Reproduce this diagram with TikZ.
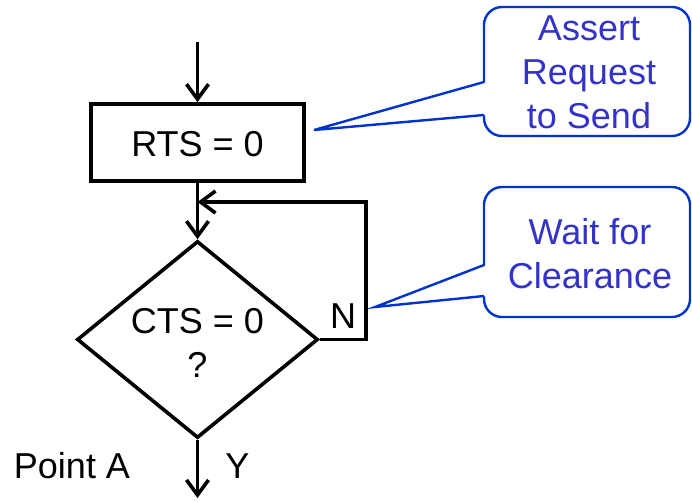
\documentclass[tikz,border=0pt]{standalone}
\usepackage{fontspec}
\setmainfont{Liberation Sans}
\usetikzlibrary{arrows.meta,shapes.geometric}
\definecolor{cborder}{RGB}{0,51,204}
\definecolor{ctext}{RGB}{51,51,204}
\tikzset{
  flow/.style={draw=black, line width=3.6pt},
  arr/.style={flow, -{Straight Barb[length=15pt,width=22pt,line width=3.6pt]}},
  lbl/.style={font=\fontsize{36}{44}\selectfont, inner sep=0pt},
  calloutbox/.style={draw=cborder, line width=2.4pt, rounded corners=18pt, fill=white},
  callouttext/.style={lbl, text=ctext, align=center, anchor=base},
  pointer/.style={draw=cborder, line width=2.4pt, line join=miter},
}
\begin{document}
\begin{tikzpicture}[x=1pt,y=-1pt]
\useasboundingbox (0,0) rectangle (692,501);
% flowchart
\coordinate (start) at (197.5,42);
\node[flow, rectangle, minimum width=213pt, minimum height=77pt, inner sep=0pt] (rts) at (197.5,142.5) {};
\node[lbl, anchor=base] (rtst) at (197.5,156) {RTS = 0};
\node[flow, diamond, minimum width=241pt, minimum height=197pt, inner sep=0pt] (dia) at (197.5,339.5) {};
\node[lbl, align=center, anchor=base] (ctst) at (197.5,377) {CTS = 0\\?};
\coordinate (merge) at (197.5,202);
\coordinate (loopbr) at (366,339.5);
\coordinate (looptr) at (366,202);
\coordinate (finish) at (197.5,498);
\draw[arr] (start) -- (rts.north);
\draw[flow] (rts.south) -- (merge);
\draw[arr] (merge) -- (dia.north);
\draw[arr, line join=miter] (dia.east) -- (loopbr) -- (looptr) -- (merge);
\draw[arr] (dia.south) -- (finish);
\node[lbl, anchor=base] (nlbl) at (343,328) {N};
\node[lbl, anchor=base] (ylbl) at (237.5,478) {Y};
\node[lbl, anchor=base] (ptA) at (72,478) {Point A};
% callout 1
\draw[calloutbox] (484,100) -- (484,7) -- (690,7) -- (690,136) -- (484,136) -- cycle;
\coordinate (tip1) at (314,130);
\fill[white] (487,82) -- (tip1) -- (487,115) -- cycle;
\draw[pointer] (484,82) -- (tip1) -- (484,115);
\node[callouttext] (c1) at (589,128) {Assert\\Request\\to Send};
% callout 2
\draw[calloutbox] (484,250) -- (484,187) -- (690,187) -- (690,317) -- (484,317) -- cycle;
\coordinate (tip2) at (375,307);
\fill[white] (487,265) -- (tip2) -- (487,296) -- cycle;
\draw[pointer] (484,265) -- (tip2) -- (484,296);
\node[callouttext] (c2) at (590,288) {Wait for\\Clearance};
\end{tikzpicture}
\end{document}
